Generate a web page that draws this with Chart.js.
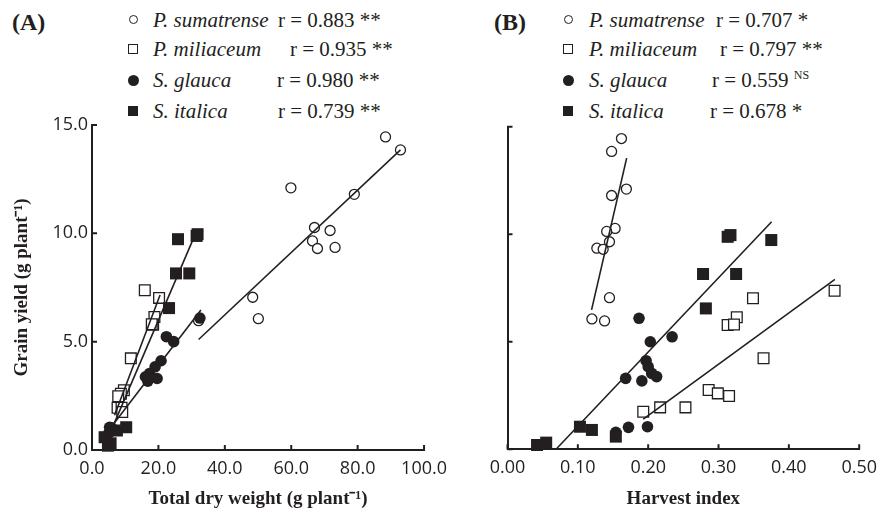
<!DOCTYPE html>
<html>
<head>
<meta charset="utf-8">
<script src="https://cdn.jsdelivr.net/npm/chart.js@4.4.1/dist/chart.umd.min.js"></script>
<style>
  body { margin: 0; background: #fff; width: 885px; height: 515px; position: relative; overflow: hidden;
         font-family: 'Liberation Serif', 'Times New Roman', serif; color: #231f20; }
  .panel { position: absolute; top: 110px; height: 405px; }
  .tag { position: absolute; font-weight: bold; font-size: 24px; line-height: 28px; }
  .row { position: absolute; font-size: 21px; line-height: 24px; white-space: nowrap; }
  .row sup { font-size: 12px; vertical-align: 8px; line-height: 0; }
  .mk { position: absolute; box-sizing: border-box; }
</style>
</head>
<body>
<div class="tag" style="left:12px;top:8px">(A)</div>
<div class="tag" style="left:494px;top:8px">(B)</div>
<div id="legA"></div>
<div id="legB"></div>
<div class="panel" style="left:0;width:455px"><canvas id="chartA"></canvas></div>
<div class="panel" style="left:450px;width:435px"><canvas id="chartB"></canvas></div>
<script>
// species legend
const species = ['P. sumatrense', 'P. miliaceum', 'S. glauca', 'S. italica'];
const rA = ['0.883', '0.935', '0.980', '0.739'];
const sigA = ['**', '**', '**', '**'];
const rB = ['0.707', '0.797', '0.559', '0.678'];
const sigB = ['*', '**', 'NS', '*'];

// grain yield (g plant-1), shared by both panels
const sumYield = [14.45, 13.85, 12.1, 11.8, 10.27, 10.13, 9.65, 9.35, 9.3, 7.05, 6.06, 5.97];
const milYield = [7.37, 7.02, 6.14, 5.78, 5.8, 4.23, 2.76, 2.6, 2.48, 1.95, 1.95, 1.75];
const glaYield = [6.09, 5.23, 5.0, 4.12, 3.84, 3.53, 3.38, 3.3, 3.18, 1.05, 1.02, 0.79];
const itaYield = [9.96, 9.88, 9.73, 8.15, 8.15, 6.55, 1.05, 0.9, 0.59, 0.31, 0.2];

// total dry weight (g plant-1), panel A
const sumTdw = [88.4, 92.9, 59.9, 79.0, 67.0, 71.7, 66.4, 73.2, 67.9, 48.4, 50.1, 32.1];
const milTdw = [15.9, 20.2, 18.8, 18.4, 18.0, 11.7, 9.6, 8.7, 7.9, 7.7, 8.9, 9.1];
const glaTdw = [32.5, 22.4, 24.6, 20.8, 19.0, 17.3, 16.1, 19.6, 16.8, 5.3, 5.9, 5.1];
const itaTdw = [31.8, 31.5, 25.9, 29.3, 25.3, 23.2, 10.3, 7.5, 3.8, 5.6, 4.8];

// harvest index, panel B
const sumHi = [0.162, 0.148, 0.169, 0.148, 0.153, 0.141, 0.145, 0.127, 0.136, 0.145, 0.120, 0.138];
const milHi = [0.465, 0.349, 0.326, 0.313, 0.322, 0.364, 0.286, 0.299, 0.315, 0.253, 0.217, 0.193];
const glaHi = [0.187, 0.234, 0.203, 0.197, 0.200, 0.205, 0.212, 0.168, 0.191, 0.199, 0.172, 0.154];
const itaHi = [0.317, 0.313, 0.375, 0.278, 0.325, 0.282, 0.103, 0.120, 0.154, 0.055, 0.042];

// fitted lines, end points
const fitA = {
  sum: [[32.1, 5.1], [92.9, 13.85]],
  mil: [[6.8, 1.6], [20.5, 7.15]],
  gla: [[5.1, 0.92], [32.8, 6.46]],
  ita: [[5.5, 0.8], [31.5, 10.1]]
};
const fitB = {
  sum: [[0.1195, 6.48], [0.1694, 13.54]],
  mil: [[0.193, 1.4], [0.4655, 7.9]],
  ita: [[0.069, 0.0], [0.3755, 10.58]]
};

const yTicks = [0, 5, 10, 15];
const xTicksA = [0, 20, 40, 60, 80, 100];
const xTicksB = [0, 0.1, 0.2, 0.3, 0.4, 0.5];

const ink = '#231f20';

// legend built as html text
function buildLegend(id, markX, textX, rX, rVals, sigs) {
  const rows = [19.5, 49, 80, 111];
  const marks = [
    'width:9px;height:9px;border:1.4px solid ' + ink + ';border-radius:50%',
    'width:10px;height:10px;border:1.4px solid ' + ink,
    'width:11px;height:11px;background:' + ink + ';border-radius:50%',
    'width:10px;height:10px;background:' + ink
  ];
  const sizes = [9, 10, 11, 10];
  const el = document.getElementById(id);
  species.forEach((name, i) => {
    const cy = rows[i];
    const m = document.createElement('div');
    m.className = 'mk';
    m.style.cssText = marks[i] + ';left:' + (markX - sizes[i] / 2) + 'px;top:' + (cy - sizes[i] / 2) + 'px';
    el.appendChild(m);
    const t = document.createElement('div');
    t.className = 'row';
    t.style.left = textX + 'px';
    t.style.top = (cy - 12) + 'px';
    t.innerHTML = '<i>' + name + '</i>';
    el.appendChild(t);
    const r = document.createElement('div');
    r.className = 'row';
    r.style.left = rX[i] + 'px';
    r.style.top = (cy - 12) + 'px';
    r.innerHTML = 'r = ' + rVals[i] + (sigs[i] === 'NS' ? ' <sup>NS</sup>' : ' ' + sigs[i]);
    el.appendChild(r);
  });
}
buildLegend('legA', 133, 153, [278, 290, 277, 278], rA, sigA);
buildLegend('legB', 568, 589, [716, 720, 712, 710], rB, sigB);

const pts = (xs, ys) => xs.map((x, i) => ({ x: x, y: ys[i] }));
const seg = (p) => p.map(([x, y]) => ({ x: x, y: y }));

function fitSet(data) {
  return { data: seg(data), showLine: true, borderColor: ink, borderWidth: 1.6,
           pointRadius: 0, fill: false, clip: false };
}
function markSet(data, style, filled, radius) {
  return { data: data, pointStyle: style, pointRadius: radius, pointHoverRadius: radius,
           pointBackgroundColor: filled ? ink : '#fff', pointBorderColor: ink,
           pointBorderWidth: filled ? 0 : 1.3, showLine: false, clip: false };
}

// draws short tick marks pointing into the plot
const innerTicks = {
  id: 'innerTicks',
  afterDraw(chart, args, opts) {
    const { ctx, chartArea, scales } = chart;
    ctx.save();
    ctx.strokeStyle = ink;
    ctx.lineWidth = 2;
    ctx.beginPath();
    opts.x.forEach(v => {
      const px = scales.x.getPixelForValue(v);
      ctx.moveTo(px, chartArea.bottom);
      ctx.lineTo(px, chartArea.bottom - 5);
    });
    opts.y.forEach(v => {
      const py = scales.y.getPixelForValue(v);
      ctx.moveTo(chartArea.left, py);
      ctx.lineTo(chartArea.left + 5, py);
    });
    ctx.stroke();
    ctx.restore();
  }
};

function makeOptions(cfg) {
  return {
    responsive: true,
    maintainAspectRatio: false,
    animation: false,
    events: [],
    layout: { padding: cfg.padding },
    plugins: {
      legend: { display: false },
      tooltip: { enabled: false },
      innerTicks: { x: cfg.xTicks, y: yTicks }
    },
    scales: {
      x: {
        type: 'linear',
        min: cfg.xTicks[0],
        max: cfg.xTicks[cfg.xTicks.length - 1],
        afterBuildTicks: (s) => { s.ticks = cfg.xTicks.map(v => ({ value: v })); },
        afterFit: (s) => { s.height = cfg.xHeight; },
        grid: { display: false, drawTicks: false },
        border: { display: true, color: ink, width: 2 },
        ticks: {
          color: ink,
          padding: 8,
          maxRotation: 0,
          autoSkip: false,
          font: { family: "'Open Sans', sans-serif", size: 18 },
          callback: (v) => Number(v).toFixed(cfg.xDigits)
        },
        title: {
          display: true,
          text: cfg.xTitle,
          color: ink,
          padding: { top: 14, bottom: 5 },
          font: { family: "'Liberation Serif', serif", size: 19, weight: 'bold' }
        }
      },
      y: {
        type: 'linear',
        min: 0,
        max: 15,
        afterBuildTicks: (s) => { s.ticks = yTicks.map(v => ({ value: v })); },
        afterFit: (s) => { s.width = cfg.yWidth; },
        grid: { display: false, drawTicks: false },
        border: { display: true, color: ink, width: 2 },
        ticks: {
          display: cfg.yLabels,
          color: ink,
          padding: 4,
          font: { family: "'Open Sans', sans-serif", size: 18 },
          callback: (v) => Number(v).toFixed(1)
        },
        title: {
          display: !!cfg.yTitle,
          text: cfg.yTitle || '',
          color: ink,
          padding: { top: 11, bottom: 0 },
          font: { family: "'Liberation Serif', serif", size: 19, weight: 'bold' }
        }
      }
    }
  };
}

new Chart(document.getElementById('chartA'), {
  type: 'scatter',
  data: {
    datasets: [
      fitSet(fitA.sum), fitSet(fitA.mil), fitSet(fitA.gla), fitSet(fitA.ita),
      markSet(pts(itaTdw, itaYield), 'rect', true, 8.5),
      markSet(pts(glaTdw, glaYield), 'circle', true, 5.8),
      markSet(pts(milTdw, milYield), 'rect', false, 7.6),
      markSet(pts(sumTdw, sumYield), 'circle', false, 5)
    ]
  },
  options: makeOptions({
    padding: { top: 15, right: 8, left: 0, bottom: 0 },
    xTicks: xTicksA, xDigits: 1, xHeight: 65, yWidth: 92, yLabels: true,
    xTitle: 'Total dry weight (g plant\u207B\u00B9)',
    yTitle: 'Grain yield (g plant\u207B\u00B9)'
  }),
  plugins: [innerTicks]
});

new Chart(document.getElementById('chartB'), {
  type: 'scatter',
  data: {
    datasets: [
      fitSet(fitB.sum), fitSet(fitB.mil), fitSet(fitB.ita),
      markSet(pts(itaHi, itaYield), 'rect', true, 8.5),
      markSet(pts(glaHi, glaYield), 'circle', true, 5.8),
      markSet(pts(milHi, milYield), 'rect', false, 7.6),
      markSet(pts(sumHi, sumYield), 'circle', false, 5)
    ]
  },
  options: makeOptions({
    padding: { top: 16.7, right: 21.7, left: 0, bottom: 0 },
    xTicks: xTicksB, xDigits: 2, xHeight: 65.7, yWidth: 57.5, yLabels: false,
    xTitle: 'Harvest index',
    yTitle: null
  }),
  plugins: [innerTicks]
});
</script>
</body>
</html>
